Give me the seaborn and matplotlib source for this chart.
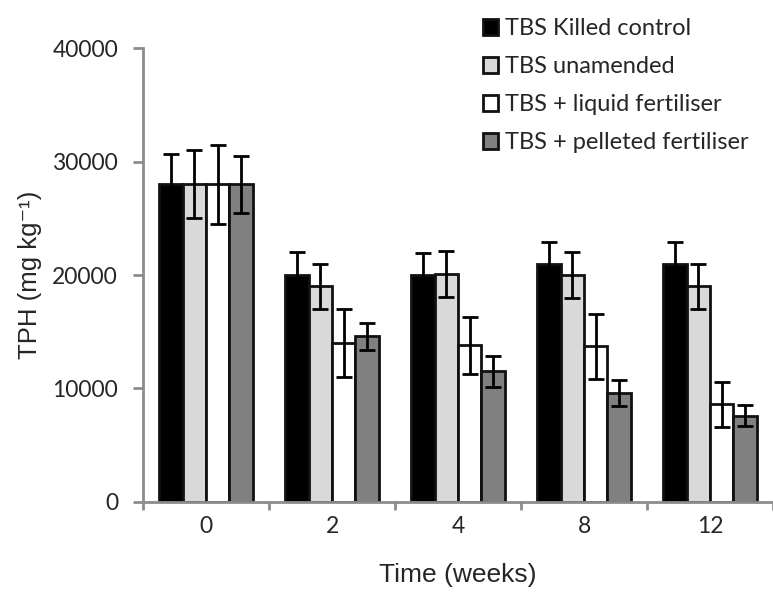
import numpy as np
import pandas as pd
import matplotlib
matplotlib.use("Agg")
import matplotlib.pyplot as plt
import seaborn as sns

weeks = ["0", "2", "4", "8", "12"]
treatments = ["TBS Killed control", "TBS unamended",
              "TBS + liquid fertiliser", "TBS + pelleted fertiliser"]
killed = [28000, 20000, 20000, 21000, 21000]
killed_err = [2700, 2000, 1900, 1900, 1900]
unamended = [28000, 19000, 20100, 20000, 19000]
unamended_err = [3000, 2000, 2000, 2000, 2000]
liquid = [28000, 14000, 13800, 13700, 8600]
liquid_err = [3500, 3000, 2500, 2900, 2000]
pelleted = [28000, 14600, 11500, 9600, 7600]
pelleted_err = [2500, 1200, 1400, 1150, 900]
colors = ["#000000", "#d9d9d9", "#ffffff", "#808080"]

means = [killed, unamended, liquid, pelleted]
errs = [killed_err, unamended_err, liquid_err, pelleted_err]
rows = []
for t, m, e in zip(treatments, means, errs):
    for w, v, s in zip(weeks, m, e):
        rows.append({"week": w, "treatment": t, "tph": v, "err": s})
df = pd.DataFrame(rows)

sns.set_style("white")
plt.rcParams["font.family"] = ["Lato", "DejaVu Sans"]

fig = plt.figure(figsize=(7.73, 5.94), dpi=100)
ax = fig.add_axes([0.185, 0.155, 0.815, 0.764])

sns.barplot(data=df, x="week", y="tph", hue="treatment", order=weeks,
            hue_order=treatments, palette=colors, errorbar=None,
            width=0.74, gap=0, edgecolor="#111111", linewidth=2.0,
            saturation=1, ax=ax)
handles, labels = ax.get_legend_handles_labels()
ax.get_legend().remove()

# error bars on top of each bar
for cont, t in zip(ax.containers, treatments):
    sub = df[df["treatment"] == t].set_index("week").loc[weeks]
    xs = [p.get_x() + p.get_width() / 2 for p in cont.patches]
    ax.errorbar(xs, sub["tph"], yerr=sub["err"], fmt="none", ecolor="black",
                elinewidth=2.0, capsize=6, capthick=2.0, zorder=5)

ax.set_ylim(0, 40000)
ax.set_xlim(-0.5, 4.5)
ax.set_yticks([0, 10000, 20000, 30000, 40000])
lab_fam = ["Liberation Sans", "DejaVu Sans"]
ax.set_ylabel("TPH (mg kg\u207b\u00b9)", family=lab_fam, fontsize=18.5)
ax.yaxis.set_label_coords(-0.16, 0.5)
ax.set_xlabel("Time (weeks)", family=lab_fam, fontsize=19, labelpad=19)

for s in ["top", "right"]:
    ax.spines[s].set_visible(False)
for s in ["left", "bottom"]:
    ax.spines[s].set_color("#8c8c8c")
    ax.spines[s].set_linewidth(2)

ax.tick_params(axis="y", direction="out", length=7, width=2, color="#8c8c8c",
               labelsize=16.5, left=True, pad=11)
ax.tick_params(axis="x", which="major", length=0, labelsize=16.5, pad=10)
ax.set_xticks([-0.5, 0.5, 1.5, 2.5, 3.5, 4.5], minor=True)
ax.tick_params(axis="x", which="minor", direction="out", length=6, width=2,
               color="#8c8c8c", bottom=True)

leg = fig.legend(handles, labels, loc="upper left", bbox_to_anchor=(0.612, 0.985),
                 frameon=False, fontsize=17, handlelength=0.65, handleheight=0.65,
                 handletextpad=0.3, labelspacing=0.72, borderaxespad=0)

fig.savefig("out.png", dpi=100)
